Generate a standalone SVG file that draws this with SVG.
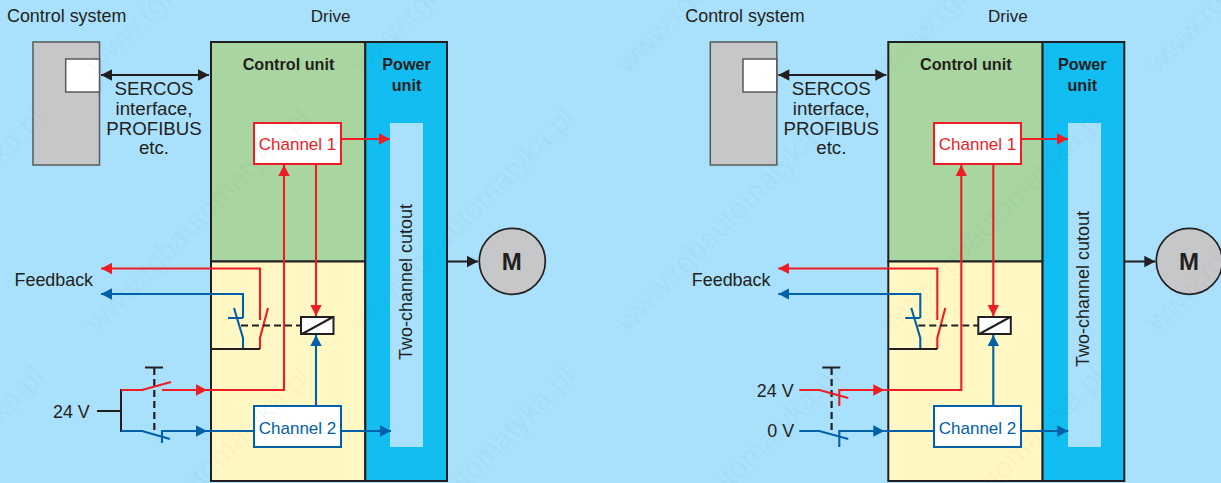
<svg xmlns="http://www.w3.org/2000/svg" width="1221" height="483" viewBox="0 0 1221 483">
<style>
text{font-family:"Liberation Sans",Arial,sans-serif;fill:#231f20}
.t{font-size:17.9px}.c{text-anchor:middle}.s{font-size:18.7px}.b{font-weight:bold;font-size:16.2px}
.ch{font-size:17px;text-anchor:middle}
.box{stroke:#231f20;stroke-width:2}
.k{fill:none;stroke:#231f20;stroke-width:2}
.r{fill:none;stroke:#ee1c25;stroke-width:2.1}
.u{fill:none;stroke:#0061a8;stroke-width:2.1}
.d{fill:none;stroke:#231f20;stroke-width:2.2;stroke-dasharray:7 4}
.ra{marker-end:url(#mr)}.ua{marker-end:url(#mu)}.ka{marker-end:url(#mk)}
.wm{font-size:30px;fill:#3a5a70;fill-opacity:.04}
</style>
<defs>
<marker id="mr" markerUnits="userSpaceOnUse" markerWidth="12" markerHeight="12" refX="11" refY="6" orient="auto"><path d="M0,0.3L11,6L0,11.7z" fill="#ee1c25"/></marker>
<marker id="mu" markerUnits="userSpaceOnUse" markerWidth="12" markerHeight="12" refX="11" refY="6" orient="auto"><path d="M0,0.3L11,6L0,11.7z" fill="#0061a8"/></marker>
<marker id="mk" markerUnits="userSpaceOnUse" markerWidth="12" markerHeight="12" refX="11" refY="6" orient="auto"><path d="M0,0.3L11,6L0,11.7z" fill="#231f20"/></marker>
<marker id="mks" markerUnits="userSpaceOnUse" markerWidth="12" markerHeight="12" refX="0" refY="6" orient="auto"><path d="M11,0.3L0,6L11,11.7z" fill="#231f20"/></marker>
</defs>
<rect id="background" width="1221" height="483" fill="#a9e0fb"/>

<g id="left-diagram">
<g id="l-control-system"><rect x="33" y="42" width="66.5" height="123" fill="#c6c7c9" stroke="#58595b" stroke-width="1.5"/><rect x="65.7" y="59" width="33.8" height="33" fill="#fff" stroke="#58595b" stroke-width="1.5"/><text class="t" x="7" y="22">Control system</text></g>
<text id="l-drive-label" class="c" x="330.6" y="22" style="font-size:17px">Drive</text>
<g id="l-control-unit"><rect class="box" x="211" y="42" width="154.3" height="219.5" fill="#a8d5a0"/><text class="b c" x="288.5" y="70">Control unit</text></g>
<rect id="l-safety-area" class="box" x="211" y="261.5" width="154.3" height="219.5" fill="#fff8c4"/>
<g id="l-power-unit"><rect class="box" x="365.3" y="42" width="81.7" height="439" fill="#12bdf2"/><text class="b c" x="406.5" y="70">Power</text><text class="b c" x="406.5" y="91">unit</text></g>
<g id="l-cutout"><rect x="390" y="123" width="33" height="324" fill="#a9e0fb"/><text transform="translate(411.7 360) rotate(-90)" style="font-size:18px">Two-channel cutout</text></g>
<g id="l-connectors">
<path d="M101,75H209" style="fill:none;stroke:#231f20;stroke-width:2.2;marker-start:url(#mks);marker-end:url(#mk)"/>
<path class="r ra" d="M341,139H390"/>
<path class="r ra" d="M316,164V316"/>
<path class="u ua" d="M316,406V335"/>
<path class="k ka" d="M447,261.5H478"/>
<path class="r ra" d="M260,320V268.5H101"/>
<path class="u ua" d="M243,318V294H101"/>
<path class="r" d="M260,349V338L268,308"/>
<path class="u" d="M228,318H243M234,308L243,338V349"/>
<path class="k" d="M212,349H260"/>
<path class="d" d="M241,325.5H301"/>
<path class="k" d="M97,411H121M143,390H121V431H143"/>
<path class="k" d="M145,367.5H163"/>
<path class="d" d="M154.3,368V430"/>
<path class="r" d="M121,390H142L171,382"/>
<path class="r ra" d="M162,390H207"/>
<path class="r ra" d="M207,390H284V165"/>
<path class="u" d="M121,431H142L170,439"/>
<path class="u ua" d="M162,443V431H207"/>
<path class="u" d="M207,431H254"/>
<path class="u ua" d="M341,431H391"/>
</g>
<g id="l-coil"><rect x="301" y="317" width="32.5" height="17" fill="#fff" stroke="#231f20" stroke-width="2"/><path class="k" d="M302,334L333,317"/></g>
<g id="l-channel-1"><rect x="254" y="123" width="87" height="41" fill="#fff" stroke="#ee1c25" stroke-width="2"/><text class="ch" x="297.5" y="150" style="fill:#ee1c25">Channel 1</text></g>
<g id="l-channel-2"><rect x="254" y="406" width="87" height="41" fill="#fff" stroke="#0061a8" stroke-width="2"/><text class="ch" x="297.5" y="434" style="fill:#0061a8">Channel 2</text></g>
<g id="l-motor"><circle cx="512.3" cy="261.3" r="33" fill="#c6c7c9" stroke="#231f20" stroke-width="1.7"/><text class="c" x="511.8" y="270" style="font-weight:bold;font-size:24px">M</text></g>
<g id="l-labels">
<text class="s c" x="154" y="95">SERCOS</text><text class="s c" x="154" y="115">interface,</text><text class="s c" x="154" y="135">PROFIBUS</text><text class="s c" x="154" y="154">etc.</text>
<text class="t" x="14.5" y="285.7">Feedback</text>
<text class="t" x="53" y="417.7">24 V</text>
</g>
</g>

<g id="right-diagram">
<g transform="translate(677.3 0)">
<g id="r-control-system"><rect x="33" y="42" width="66.5" height="123" fill="#c6c7c9" stroke="#58595b" stroke-width="1.5"/><rect x="65.7" y="59" width="33.8" height="33" fill="#fff" stroke="#58595b" stroke-width="1.5"/><text class="t" x="8" y="22">Control system</text></g>
<text id="r-drive-label" class="c" x="330.6" y="22" style="font-size:17px">Drive</text>
<g id="r-control-unit"><rect class="box" x="211" y="42" width="154.3" height="219.5" fill="#a8d5a0"/><text class="b c" x="288.5" y="70">Control unit</text></g>
<rect id="r-safety-area" class="box" x="211" y="261.5" width="154.3" height="219.5" fill="#fff8c4"/>
<g id="r-power-unit"><rect class="box" x="365.3" y="42" width="81.7" height="439" fill="#12bdf2"/><text class="b c" x="405" y="70">Power</text><text class="b c" x="405" y="91">unit</text></g>
<g id="r-cutout"><rect x="390.7" y="123" width="33" height="324" fill="#a9e0fb"/><text transform="translate(411.7 367) rotate(-90)" style="font-size:18px">Two-channel cutout</text></g>
<g id="r-connectors">
<path d="M101,75H209" style="fill:none;stroke:#231f20;stroke-width:2.2;marker-start:url(#mks);marker-end:url(#mk)"/>
<path class="r ra" d="M344,139H390.7"/>
<path class="r ra" d="M316,164V316"/>
<path class="u ua" d="M316,406V335"/>
<path class="k ka" d="M447,261.5H478"/>
<path class="r ra" d="M260,320V268.5H101"/>
<path class="u ua" d="M243,318V294H101"/>
<path class="r" d="M260,349V338L268,308"/>
<path class="u" d="M228,318H243M234,308L243,338V349"/>
<path class="k" d="M212,349H260"/>
<path class="d" d="M241,325.5H301"/>
<path class="k" d="M145,367.5H163"/>
<path class="d" d="M154.3,368V430"/>
<path class="r" d="M122,390H142L171,398"/>
<path class="r ra" d="M162,406V390H207"/>
<path class="r ra" d="M207,390H284V165"/>
<path class="u" d="M122,431H142L171,439"/>
<path class="u ua" d="M162,447V431H207"/>
<path class="u" d="M207,431H257"/>
<path class="u ua" d="M344,431H391"/>
</g>
<g id="r-coil"><rect x="301" y="317" width="32.5" height="17" fill="#fff" stroke="#231f20" stroke-width="2"/><path class="k" d="M302,334L333,317"/></g>
<g id="r-channel-1"><rect x="256.7" y="123" width="87" height="41" fill="#fff" stroke="#ee1c25" stroke-width="2"/><text class="ch" x="300.2" y="150" style="fill:#ee1c25">Channel 1</text></g>
<g id="r-channel-2"><rect x="256.7" y="406" width="87" height="41" fill="#fff" stroke="#0061a8" stroke-width="2"/><text class="ch" x="300.2" y="434" style="fill:#0061a8">Channel 2</text></g>
<g id="r-motor"><circle cx="512" cy="261.3" r="33" fill="#c6c7c9" stroke="#231f20" stroke-width="1.7"/><text class="c" x="511.8" y="270" style="font-weight:bold;font-size:24px">M</text></g>
<g id="r-labels">
<text class="s c" x="154" y="95">SERCOS</text><text class="s c" x="154" y="115">interface,</text><text class="s c" x="154" y="135">PROFIBUS</text><text class="s c" x="154" y="154">etc.</text>
<text class="t" x="14.5" y="285.7">Feedback</text>
<text class="t" x="79.5" y="396.7">24 V</text>
<text class="t" x="90" y="436.7">0 V</text>
</g>
</g>
</g>

<g id="watermark">
<text class="wm" transform="translate(98 75) rotate(-45)">www.rgbautomatyka.pl</text>
<text class="wm" transform="translate(363 75) rotate(-45)">www.rgbautomatyka.pl</text>
<text class="wm" transform="translate(628 75) rotate(-45)">www.rgbautomatyka.pl</text>
<text class="wm" transform="translate(893 75) rotate(-45)">www.rgbautomatyka.pl</text>
<text class="wm" transform="translate(1158 75) rotate(-45)">www.rgbautomatyka.pl</text>
<text class="wm" transform="translate(-167 333) rotate(-45)">www.rgbautomatyka.pl</text>
<text class="wm" transform="translate(98 333) rotate(-45)">www.rgbautomatyka.pl</text>
<text class="wm" transform="translate(363 333) rotate(-45)">www.rgbautomatyka.pl</text>
<text class="wm" transform="translate(628 333) rotate(-45)">www.rgbautomatyka.pl</text>
<text class="wm" transform="translate(893 333) rotate(-45)">www.rgbautomatyka.pl</text>
<text class="wm" transform="translate(1158 333) rotate(-45)">www.rgbautomatyka.pl</text>
<text class="wm" transform="translate(-167 592) rotate(-45)">www.rgbautomatyka.pl</text>
<text class="wm" transform="translate(98 592) rotate(-45)">www.rgbautomatyka.pl</text>
<text class="wm" transform="translate(363 592) rotate(-45)">www.rgbautomatyka.pl</text>
<text class="wm" transform="translate(628 592) rotate(-45)">www.rgbautomatyka.pl</text>
<text class="wm" transform="translate(893 592) rotate(-45)">www.rgbautomatyka.pl</text>
</g>
</svg>
